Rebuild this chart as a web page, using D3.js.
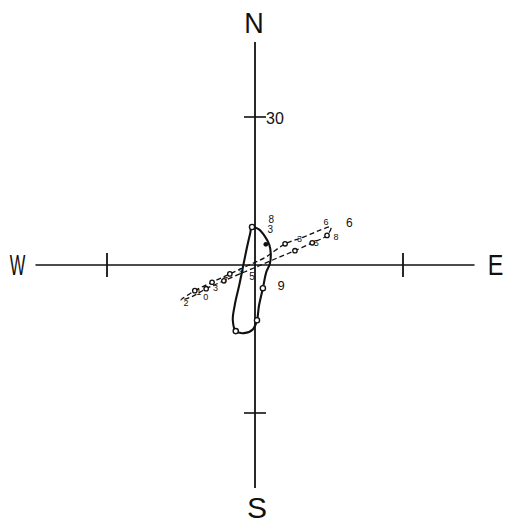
<!DOCTYPE html>
<html>
<head>
<meta charset="utf-8">
<script src="https://cdn.jsdelivr.net/npm/d3@7/dist/d3.min.js"></script>
<style>
  html, body { margin: 0; padding: 0; background: #fff; }
  svg { display: block; }
  text { font-family: "Liberation Sans Narrow", "Liberation Sans", sans-serif; fill: #111; }
</style>
</head>
<body>
<svg id="chart" width="509" height="525"></svg>
<script>
// Current hodograph: east (u) and north (v) components, cm/s.
// Solid ellipse: hourly current vectors at the lower layer.
const solidU = [-0.6, 0.8, 2.0, 2.9, 3.2, 3.0, 2.3, 1.6, 0.8, 0.4, -0.4, -2.2, -3.9, -4.5, -4.1, -3.2, -2.4, -1.6, -1.0];
const solidV = [7.7, 7.2, 5.8, 4.1, 2.2, 0.2, -1.4, -4.7, -8.3, -11.2, -13.0, -13.8, -13.4, -11.2, -8.1, -4.1, -0.2, 3.7, 6.3];
const solidMarks = [0, 7, 9, 12];

// Dashed ellipse: hourly current vectors at the upper layer.
const dashU = [-15.0, -12.2, -8.7, -5.1, -1.4, 2.2, 6.1, 9.7, 12.8, 15.4, 14.6, 11.6, 8.1, 4.7, 1.0, -2.6, -6.3, -9.9, -12.8];
const dashV = [-7.1, -5.2, -3.5, -1.8, -0.1, 1.6, 4.3, 5.6, 6.9, 7.7, 6.0, 4.5, 2.9, 1.5, -0.1, -1.6, -3.2, -4.8, -6.4];
const dashMarks = [1, 2, 3, 6, 10, 11, 12, 16, 17];

// Hour labels placed at (u, v)
const hourText = ["6", "8", "3", "9", "5", "3", "5", "8", "6", "2", "1", "0", "3", "7", "9"];
const hourU = [19.1, 3.3, 3.1, 5.3, -0.6, 9.0, 12.4, 16.4, 14.4, -14.0, -11.4, -10.0, -8.0, -6.0, -2.8];
const hourV = [8.3, 9.0, 7.0, -4.3, -2.6, 5.2, 4.4, 5.6, 8.6, -7.8, -5.6, -6.6, -4.8, -3.2, -1.4];
const hourSize = [12, 10, 10, 13, 10, 9, 9, 9, 9, 9, 9, 9, 9, 9, 9];

// Compass axes
const tickValue = 30;
const axisReachX = 44.5;
const axisReachY = 45.2;
const compass = ["N", "E", "S", "W"];

const svg = d3.select("#chart");
const x = d3.scaleLinear().domain([-30, 30]).range([107, 403]);
const y = d3.scaleLinear().domain([-30, 30]).range([413, 117]);

const g = svg.append("g");

// axes lines
g.append("line")
  .attr("x1", x(-axisReachX)).attr("x2", x(axisReachX))
  .attr("y1", y(0)).attr("y2", y(0))
  .attr("stroke", "#111").attr("stroke-width", 1.6);
g.append("line")
  .attr("x1", x(0)).attr("x2", x(0))
  .attr("y1", y(axisReachY)).attr("y2", y(-axisReachY))
  .attr("stroke", "#111").attr("stroke-width", 1.8);

// ticks at +/-30
[-tickValue, tickValue].forEach(t => {
  g.append("line")
    .attr("x1", x(t)).attr("x2", x(t))
    .attr("y1", y(0) - 12).attr("y2", y(0) + 12)
    .attr("stroke", "#111").attr("stroke-width", 1.8);
  g.append("line")
    .attr("x1", x(0) - 11).attr("x2", x(0) + 11)
    .attr("y1", y(t)).attr("y2", y(t))
    .attr("stroke", "#111").attr("stroke-width", 1.6);
});
g.append("text")
  .attr("x", x(0) + 11).attr("y", y(tickValue) + 7)
  .attr("font-size", 16)
  .text(String(tickValue));

// compass letters
const letterPos = {
  N: { px: x(0) - 1, py: y(axisReachY) - 9, sx: 0.9 },
  E: { px: x(axisReachX) + 21, py: y(0) + 10, sx: 0.78 },
  S: { px: x(0) + 2, py: y(-axisReachY) + 30, sx: 1 },
  W: { px: x(-axisReachX) - 18, py: y(0) + 10, sx: 0.55 }
};
compass.forEach(c => {
  const p = letterPos[c];
  g.append("text")
    .attr("transform", `translate(${p.px},${p.py}) scale(${p.sx},1)`)
    .attr("text-anchor", "middle")
    .attr("font-size", 30)
    .text(c);
});

const solidPts = solidU.map((u, i) => [u, solidV[i]]);
const dashPts = dashU.map((u, i) => [u, dashV[i]]);
const line = d3.line()
  .x(d => x(d[0])).y(d => y(d[1]))
  .curve(d3.curveCatmullRomClosed.alpha(0.5));

g.append("path")
  .attr("d", line(dashPts))
  .attr("fill", "none")
  .attr("stroke", "#111")
  .attr("stroke-width", 1.3)
  .attr("stroke-dasharray", "5,3");

g.append("path")
  .attr("d", line(solidPts))
  .attr("fill", "none")
  .attr("stroke", "#111")
  .attr("stroke-width", 2.1);

// hourly markers
solidMarks.forEach(i => {
  g.append("circle")
    .attr("cx", x(solidU[i])).attr("cy", y(solidV[i]))
    .attr("r", 2.6)
    .attr("fill", "#fff").attr("stroke", "#111").attr("stroke-width", 1.4);
});
dashMarks.forEach(i => {
  g.append("circle")
    .attr("cx", x(dashU[i])).attr("cy", y(dashV[i]))
    .attr("r", 2.2)
    .attr("fill", "#fff").attr("stroke", "#111").attr("stroke-width", 1.3);
});
g.append("circle")
  .attr("cx", x(dashU[5])).attr("cy", y(dashV[5] + 2.6))
  .attr("r", 2.4).attr("fill", "#111");

// hour labels
hourText.forEach((t, i) => {
  g.append("text")
    .attr("x", x(hourU[i])).attr("y", y(hourV[i]))
    .attr("text-anchor", "middle")
    .attr("dominant-baseline", "middle")
    .attr("font-size", hourSize[i])
    .attr("font-family", "Liberation Sans, sans-serif")
    .text(t);
});
</script>
</body>
</html>
